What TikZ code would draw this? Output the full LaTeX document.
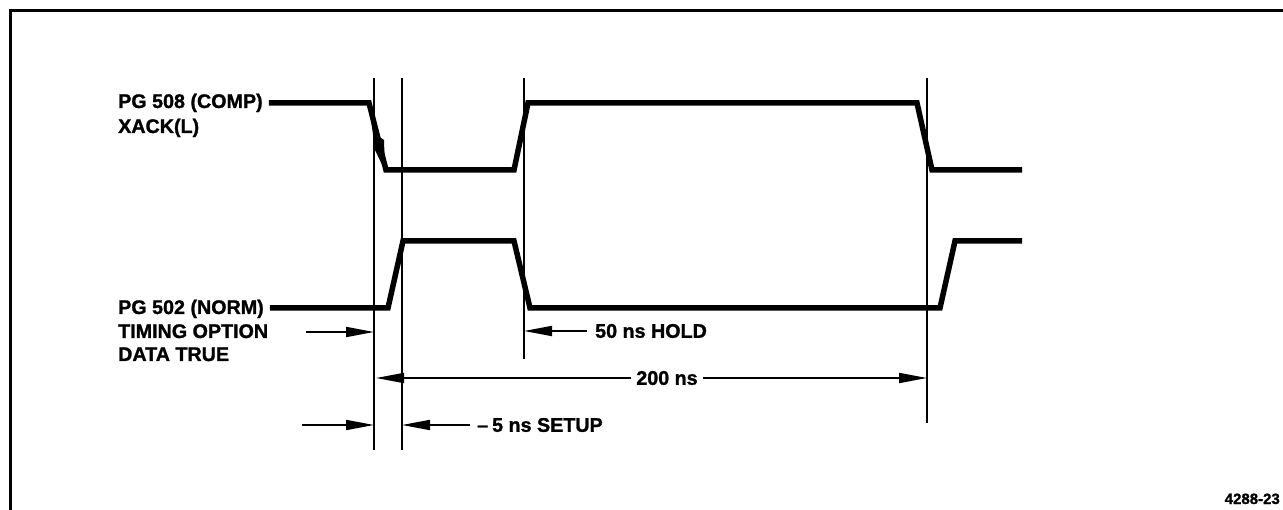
\documentclass[tikz,border=0pt]{standalone}
\usepackage{fontspec}
\setmainfont{Liberation Sans}
\newfontfamily\heavy{Liberation Sans Bold}[FakeBold=1.3]
\usetikzlibrary{arrows.meta}
\begin{document}
\begin{tikzpicture}[x=1pt,y=-1pt,
  sig/.style={line width=5.5pt, line join=miter},
  vline/.style={line width=1.8pt},
  dim/.style={line width=1.8pt},
  arr/.style={-{Triangle[length=28pt,width=10pt]}},
  lbl/.style={font=\fontsize{19.7}{23}\selectfont\heavy, inner sep=0pt, anchor=base west},
  idlbl/.style={font=\fontsize{15}{18}\selectfont\heavy, inner sep=0pt, anchor=base east}]
\useasboundingbox (0,0) rectangle (1283,510);
% frame
\draw[line width=3pt] (10,510) -- (10,11) -- (1283,11);
% labels
\node[lbl] (l1) at (118,108) {PG 508 (COMP)};
\node[lbl] (l2) at (118,133) {XACK(L)};
\node[lbl] (l3) at (118,314) {PG 502 (NORM)};
\node[lbl] (l4) at (118,338) {TIMING OPTION};
\node[lbl] (l5) at (118,361) {DATA TRUE};
% marker coordinates
\coordinate (va) at (374,78);
\coordinate (vb) at (402,78);
\coordinate (vc) at (524,78);
\coordinate (vd) at (927,78);
% vertical lines
\draw[vline] (va) -- (374,450);
\draw[vline] (vb) -- (402,450);
\draw[vline] (vc) -- (524,359);
\draw[vline] (vd) -- (927,423);
% signals
\draw[sig] (l1.base east) ++(6,-5) coordinate (s1)
  (s1) -- (369,103) -- (386,170) -- (514,170) -- (528,103) -- (917,103) -- (932,170) -- (1022,170);
\fill (369,104) -- (375,150) -- (385,171) -- (384,140) -- (378,136) -- cycle;
\draw[sig] (l3.base east) ++(6,-6) coordinate (s2)
  (s2) -- (388,308) -- (403,241) -- (514,241) -- (530,308) -- (940,308) -- (955,241) -- (1022,241);
% timing option arrow
\coordinate (to) at (306,332);
\draw[dim,arr] (to) -- (va |- to);
% hold
\node[lbl, anchor=west] (hold) at (595,331) {50 ns HOLD};
\draw[dim,arr] ([xshift=-8pt]hold.west) -- (vc |- hold.west);
% 200 ns
\node[lbl, anchor=center] (t200) at (667,378) {200 ns};
\draw[dim,arr] ([xshift=-5pt]t200.west) -- (376,378);
\draw[dim,arr] ([xshift=5pt]t200.east) -- (vd |- t200.east);
% setup
\coordinate (su) at (302,425);
\draw[dim,arr] (su) -- (va |- su);
\node[lbl, anchor=west] (setup) at (477,425) {\textendash\hspace{4pt}5 ns SETUP};
\draw[dim,arr] ([xshift=-7pt]setup.west) -- (vb |- setup.west);
% figure id
\node[idlbl] (fid) at (1280,504) {4288-23};
\end{tikzpicture}
\end{document}
